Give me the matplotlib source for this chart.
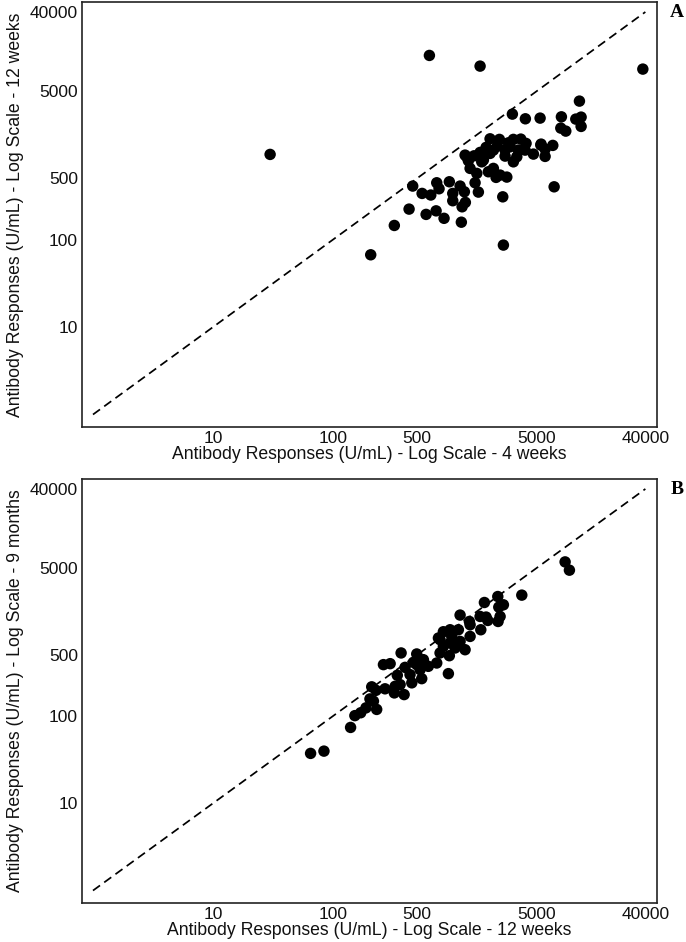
import matplotlib
matplotlib.use("Agg")
import matplotlib.pyplot as plt

# Panel A: 4 weeks (x) vs 12 weeks (y)
a_x = [635, 1679, 38100, 29.9, 11290, 3119, 4003, 5309, 7989, 10530, 11660, 11660, 7898, 8690,
       2033, 2432, 3180, 3665, 4055, 5383, 6773, 5843, 2339, 1884, 2985, 4670, 5843, 1679, 2033,
       1259, 1496, 1789, 2712, 3396, 3180, 1341, 3499, 1386, 1576, 1968, 2167, 2282, 2803, 2465,
       1525, 1625, 2594, 6950, 461, 731, 931, 764, 1144, 1242, 552, 652, 994, 994, 1266, 1189,
       430, 596, 722, 841, 1172, 324, 2626, 206, 2890, 5411, 2712, 3981, 1733, 1300, 2167]
a_y = [12740, 9616, 8890, 941, 3828, 2718, 2403, 2447, 2531, 2384, 2512, 1966, 1880, 1738,
       1419, 1397, 1397, 1408, 1257, 1202, 1193, 1082, 1171, 1132, 1150, 949, 893, 992, 966,
       924, 907, 811, 900, 884, 774, 796, 1054, 651, 571, 596, 651, 514, 518, 546,
       446, 349, 308, 401, 409, 446, 458, 381, 409, 352, 337, 323, 337, 278, 266, 237,
       223, 194, 213, 175, 158, 145, 86.5, 67, 1277, 1234, 1054, 1054, 774, 884, 1054]

# Panel B: 12 weeks (x) vs 9 months (y)
b_x = [8577, 9317, 3737, 2358, 1824, 2626, 2404, 1144, 1884, 1946, 2465, 2371, 1368, 1386,
       1702, 944, 830, 1107, 755, 975, 1386, 1144, 944, 830, 1259, 1039, 779, 931, 914, 498,
       566, 369, 263, 299, 398, 498, 622, 731, 438, 531, 548, 343, 362, 329, 453, 324, 391,
       271, 210, 228, 203, 217, 231, 188, 170, 152, 140, 65, 84, 1679, 467, 779]
b_y = [5834, 4690, 2428, 2340, 1999, 1881, 1770, 1434, 1361, 1245, 1383, 1212, 1212, 1111,
       974, 974, 924, 974, 783, 817, 817, 716, 687, 628, 575, 602, 528, 491, 306, 514,
       442, 528, 388, 398, 361, 388, 371, 405, 298, 340, 268, 293, 229, 219, 240, 184, 176,
       205, 216, 197, 157, 148, 119, 124, 109, 101, 74, 37.3, 39.6, 1383, 412, 749]

tick_vals = [10, 100, 500, 5000, 40000]
tick_labels = ["10", "100", "500", "5000", "40000"]
identity = [1, 40000]

panels = [
    dict(x=a_x, y=a_y, letter="A",
         xlabel="Antibody Responses (U/mL) - Log Scale - 4 weeks",
         ylabel="Antibody Responses (U/mL) - Log Scale - 12 weeks",
         rect=[82/686, 1-427/942, 575/686, 425/942]),
    dict(x=b_x, y=b_y, letter="B",
         xlabel="Antibody Responses (U/mL) - Log Scale - 12 weeks",
         ylabel="Antibody Responses (U/mL) - Log Scale - 9 months",
         rect=[82/686, 1-903/942, 575/686, 424/942]),
]

plt.rcParams['font.family'] = ['Liberation Sans', 'DejaVu Sans']
fig = plt.figure(figsize=(6.86, 9.42), dpi=100)

for p in panels:
    ax = fig.add_axes(p["rect"])
    ax.set_xscale("log")
    ax.set_yscale("log")
    ax.plot(identity, identity, color="black", lw=1.25, linestyle=(0, (5.0, 3.0)), zorder=1)
    ax.scatter(p["x"], p["y"], s=68, color="black", edgecolors="none", zorder=2)
    ax.set_xlim(0.81, 50000)
    ax.set_ylim(0.72, 52000)
    ax.xaxis.set_minor_locator(matplotlib.ticker.NullLocator())
    ax.yaxis.set_minor_locator(matplotlib.ticker.NullLocator())
    ax.set_xticks(tick_vals)
    ax.set_xticklabels(tick_labels)
    ax.set_yticks(tick_vals)
    ax.set_yticklabels(tick_labels)
    ax.tick_params(length=0, labelsize=12.5, pad=3, colors="#111111")
    for s in ax.spines.values():
        s.set_linewidth(1.2)
        s.set_color("#222222")
    ax.set_xlabel(p["xlabel"], fontsize=12.7, labelpad=0, color="#111111")
    ax.set_ylabel(p["ylabel"], fontsize=12.7, labelpad=4, color="#111111")
    ax.text(1.035, 0.975, p["letter"], transform=ax.transAxes, ha="center", va="center",
            fontsize=14, fontweight="bold", family="Liberation Serif")

fig.savefig("out.png", dpi=100)
